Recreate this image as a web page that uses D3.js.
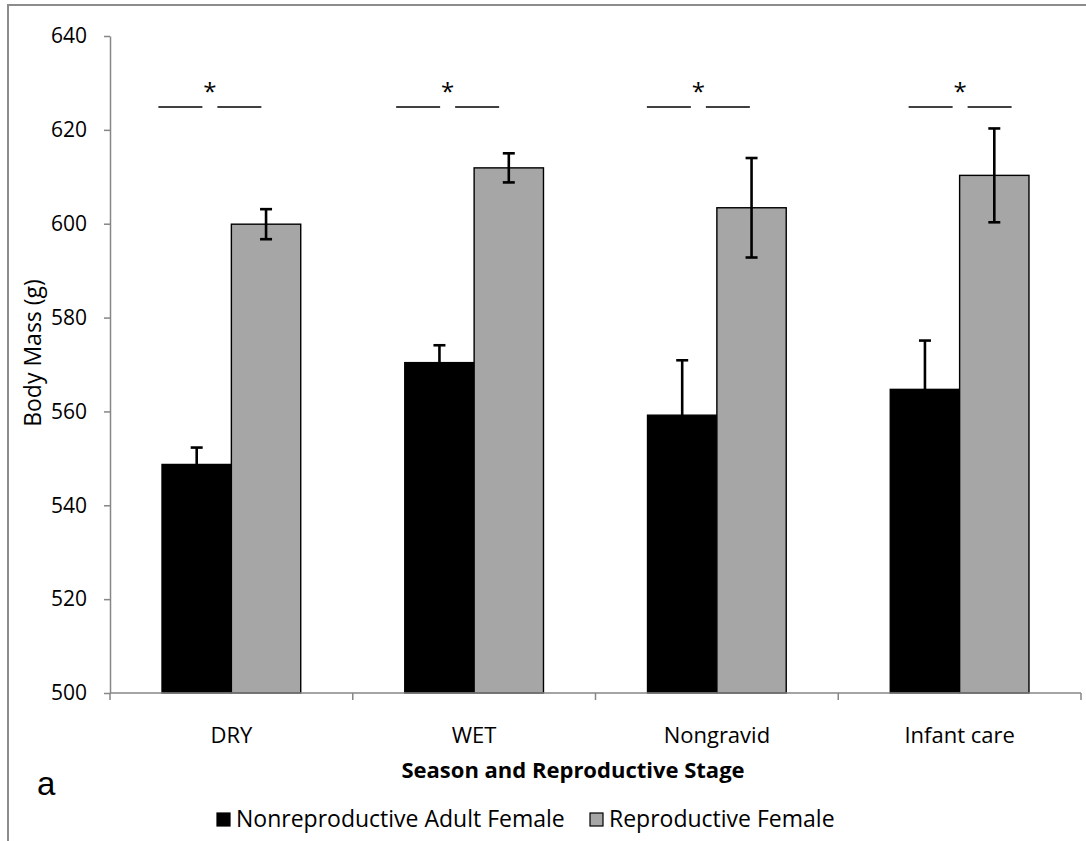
<!DOCTYPE html>
<html>
<head>
<meta charset="utf-8">
<script src="https://cdn.jsdelivr.net/npm/d3@7/dist/d3.min.js"></script>
<style>
  html, body { margin: 0; padding: 0; background: #fff; }
  svg { display: block; }
  text { font-family: "Open Sans", Lato, sans-serif; fill: #000; }
</style>
</head>
<body>
<svg id="chart" width="1086" height="841"></svg>
<script>
// Body mass by season / reproductive stage
const categories = ["DRY", "WET", "Nongravid", "Infant care"];
const seriesNames = ["Nonreproductive Adult Female", "Reproductive Female"];
const nonreproductive = [548.7, 570.4, 559.2, 564.7];
const nonreproductiveErr = [3.6, 3.7, 11.7, 10.4];
const reproductive = [599.9, 611.9, 603.4, 610.3];
const reproductiveErr = [3.2, 3.1, 10.6, 10.0];
const yTicks = [500, 520, 540, 560, 580, 600, 620, 640];
const seriesColors = ["#000000", "#a6a6a6"];

// horizontal nudge of each significance marker from its group centre (px)
const sigShift = [-22, -27, -19, 0];

const svg = d3.select("#chart");
const W = 1086, H = 841;

// outer frame (top and left edges)
svg.append("path")
  .attr("d", `M8,${H} L8,5 L${W},5`)
  .attr("fill", "none").attr("stroke", "#8c8c8c").attr("stroke-width", 2);

const plot = { left: 110, right: 1081, top: 36, bottom: 693 };

const y = d3.scaleLinear().domain([500, 640]).range([plot.bottom, plot.top]);
const x0 = d3.scaleBand().domain(categories).range([plot.left, plot.right]).padding(0);
const x1 = d3.scaleBand().domain(seriesNames).range([0, x0.bandwidth()])
  .paddingInner(0).paddingOuter(0.75);

const rows = categories.map((c, i) => ({
  cat: c,
  vals: [
    { s: seriesNames[0], v: nonreproductive[i], e: nonreproductiveErr[i], col: seriesColors[0] },
    { s: seriesNames[1], v: reproductive[i], e: reproductiveErr[i], col: seriesColors[1] }
  ]
}));

// bars
const groups = svg.append("g").selectAll("g").data(rows).join("g")
  .attr("transform", d => `translate(${x0(d.cat)},0)`);

groups.selectAll("rect").data(d => d.vals).join("rect")
  .attr("x", d => x1(d.s))
  .attr("y", d => y(d.v))
  .attr("width", x1.bandwidth())
  .attr("height", d => y(500) - y(d.v))
  .attr("fill", d => d.col)
  .attr("stroke", "#000")
  .attr("stroke-width", 1.4);

// error bars
const cap = 6;
const eb = groups.selectAll("g.err").data(d => d.vals).join("g").attr("class", "err")
  .attr("stroke", "#000").attr("stroke-width", 2.6);
eb.append("line")
  .attr("x1", d => x1(d.s) + x1.bandwidth() / 2)
  .attr("x2", d => x1(d.s) + x1.bandwidth() / 2)
  .attr("y1", d => y(d.v - d.e)).attr("y2", d => y(d.v + d.e));
eb.append("line")
  .attr("x1", d => x1(d.s) + x1.bandwidth() / 2 - cap)
  .attr("x2", d => x1(d.s) + x1.bandwidth() / 2 + cap)
  .attr("y1", d => y(d.v + d.e)).attr("y2", d => y(d.v + d.e));
eb.append("line")
  .attr("x1", d => x1(d.s) + x1.bandwidth() / 2 - cap)
  .attr("x2", d => x1(d.s) + x1.bandwidth() / 2 + cap)
  .attr("y1", d => y(d.v - d.e)).attr("y2", d => y(d.v - d.e));

// y axis
const yAxis = svg.append("g")
  .attr("transform", `translate(${plot.left},0)`)
  .call(d3.axisLeft(y).tickValues(yTicks).tickSize(6).tickPadding(17).tickSizeOuter(0));
yAxis.select(".domain").attr("stroke", "#868686").attr("stroke-width", 1.5);
yAxis.selectAll(".tick line").attr("stroke", "#868686").attr("stroke-width", 1.5);
yAxis.selectAll(".tick text").style("font-family", "'Open Sans', sans-serif")
  .style("font-size", "21px").attr("fill", "#000");

// x axis: ticks sit on category boundaries
const xAxisG = svg.append("g").attr("transform", `translate(0,${plot.bottom})`);
xAxisG.append("line")
  .attr("x1", plot.left).attr("x2", plot.right)
  .attr("stroke", "#868686").attr("stroke-width", 1.5);
const bounds = categories.map(c => x0(c)).concat([x0(categories[categories.length - 1]) + x0.bandwidth()]);
xAxisG.selectAll("line.tk").data(bounds).join("line").attr("class", "tk")
  .attr("x1", d => d).attr("x2", d => d).attr("y1", 0).attr("y2", 7)
  .attr("stroke", "#868686").attr("stroke-width", 1.5);
xAxisG.selectAll("text").data(categories).join("text")
  .attr("x", d => x0(d) + x0.bandwidth() / 2)
  .attr("y", 50)
  .attr("text-anchor", "middle")
  .style("font-size", "22px")
  .text(d => d);

// significance markers
const sig = svg.append("g").selectAll("g").data(categories).join("g")
  .attr("transform", (d, i) => `translate(${x0(d) + x0.bandwidth() / 2 + sigShift[i]},107)`);
sig.append("line").attr("x1", -51).attr("x2", -7).attr("stroke", "#000").attr("stroke-width", 1.4);
sig.append("line").attr("x1", 8).attr("x2", 52).attr("stroke", "#000").attr("stroke-width", 1.4);
sig.append("text").attr("x", 0.5).attr("y", -7).attr("text-anchor", "middle")
  .style("font-size", "24px").text("*");

// axis titles
svg.append("text")
  .attr("transform", `translate(41,353) rotate(-90)`)
  .attr("text-anchor", "middle")
  .style("font-size", "23px")
  .text("Body Mass (g)");

svg.append("text")
  .attr("x", 573).attr("y", 778)
  .attr("text-anchor", "middle")
  .style("font-size", "22px").style("font-weight", "bold")
  .text("Season and Reproductive Stage");

// panel letter
svg.append("text")
  .attr("x", 37).attr("y", 795)
  .style("font-family", "'Liberation Sans', Arial, sans-serif")
  .style("font-size", "33px")
  .text("a");

// legend
const legend = svg.append("g");
const legX = [217, 590];
const li = legend.selectAll("g").data(seriesNames).join("g")
  .attr("transform", (d, i) => `translate(${legX[i]},813)`);
li.append("rect").attr("width", 13).attr("height", 13)
  .attr("fill", (d, i) => seriesColors[i])
  .attr("stroke", "#000").attr("stroke-width", 1.2);
li.append("text").attr("x", 19).attr("y", 14)
  .style("font-size", "23px").text(d => d);
</script>
</body>
</html>
